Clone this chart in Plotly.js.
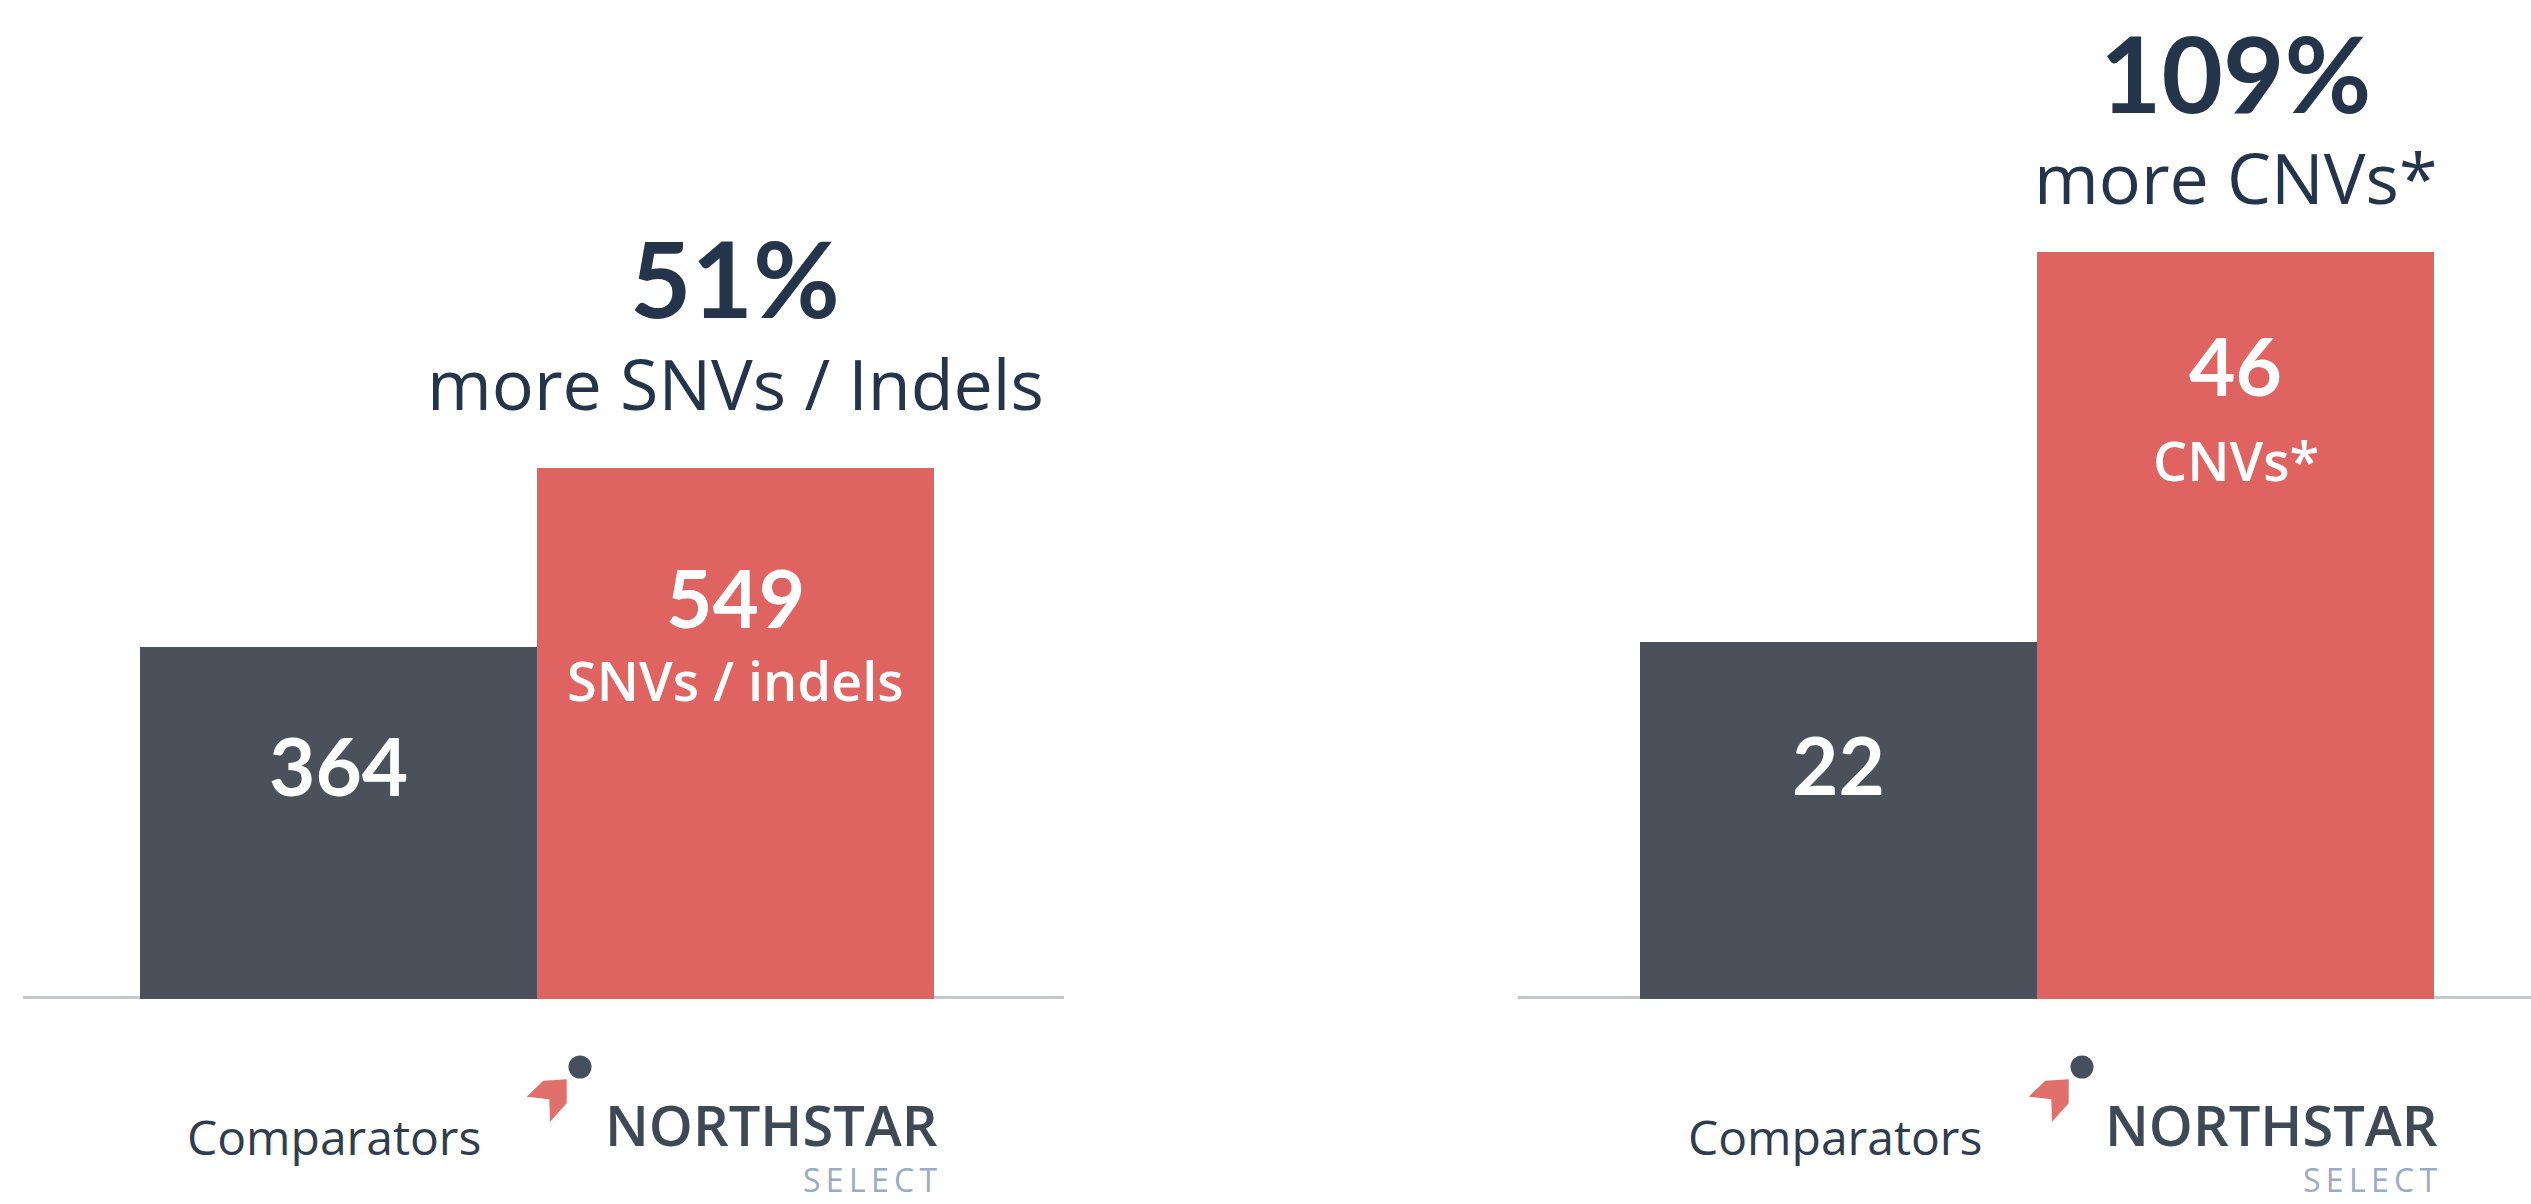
<!DOCTYPE html>
<html>
<head>
<meta charset="utf-8">
<script src="https://cdn.plot.ly/plotly-3.0.1.min.js"></script>
<style>html,body{margin:0;padding:0;background:#fff;}#chart{width:2531px;height:1204px;}</style>
</head>
<body>
<div id="chart"></div>
<script>
// ---- data ----
const categories = ['Comparators', 'NORTHSTAR SELECT'];
const snvValues = [364, 549];
const cnvValues = [22, 46];
const snvHeadline = '51%';
const snvHeadSub = 'more SNVs / Indels';
const snvBarSub = 'SNVs / indels';
const cnvHeadline = '109%';
const cnvHeadSub = 'more CNVs*';
const cnvBarSub = 'CNVs*';
const brandMain = 'NORTHSTAR';
const brandSub = 'SELECT';

// ---- styling ----
const W = 2531, H = 1204;
const DARK = '#4a515b', RED = '#df6361', NAVY = '#24344a', GRAY_LINE = '#c6c7cc';
const NUMFONT = 'Lato, "Open Sans", sans-serif';
const TXTFONT = '"Open Sans", Lato, sans-serif';
const px = x => x / W, py = y => 1 - y / H;
const spaced = s => s.split('').join('\u2009');

const traces = [
  {type: 'bar', x: categories, y: snvValues, xaxis: 'x', yaxis: 'y',
   marker: {color: [DARK, RED], line: {width: 0}}, hoverinfo: 'skip', showlegend: false},
  {type: 'bar', x: categories, y: cnvValues, xaxis: 'x2', yaxis: 'y2',
   marker: {color: [DARK, RED], line: {width: 0}}, hoverinfo: 'skip', showlegend: false}
];

const baseY = 999;
const yDomain = [py(baseY), 1];

function panelAnnotations(xa, ya, vals, headline, headSub, barSub, sh) {
  return [
    {xref: xa, yref: ya, x: categories[1], y: vals[1], text: '<b>' + headline + '</b>', showarrow: false,
     xanchor: 'center', yanchor: 'middle', yshift: sh.head,
     font: {family: NUMFONT, size: 106, color: NAVY, weight: 900}},
    {xref: xa, yref: ya, x: categories[1], y: vals[1], text: headSub, showarrow: false,
     xanchor: 'center', yanchor: 'middle', yshift: sh.sub,
     font: {family: TXTFONT, size: 70, color: NAVY}},
    {xref: xa, yref: ya, x: categories[1], y: vals[1], text: '<b>' + vals[1] + '</b>', showarrow: false,
     xanchor: 'center', yanchor: 'middle', yshift: sh.redNum,
     font: {family: NUMFONT, size: 80, color: '#ffffff', weight: 900}},
    {xref: xa, yref: ya, x: categories[1], y: vals[1], text: barSub, showarrow: false,
     xanchor: 'center', yanchor: 'middle', yshift: sh.redSub,
     font: {family: TXTFONT, size: 54, color: '#ffffff', weight: 600}},
    {xref: xa, yref: ya, x: categories[0], y: vals[0], text: '<b>' + vals[0] + '</b>', showarrow: false,
     xanchor: 'center', yanchor: 'middle', yshift: sh.darkNum,
     font: {family: NUMFONT, size: 80, color: '#ffffff', weight: 900}},
    {xref: xa, yref: 'paper', x: categories[0], y: py(1136), text: categories[0], showarrow: false,
     xanchor: 'center', yanchor: 'middle', xshift: -4,
     font: {family: TXTFONT, size: 48, color: '#2f3d4e'}},
    {xref: xa, yref: 'paper', x: 1.5, y: py(1124), text: brandMain, showarrow: false,
     xanchor: 'right', yanchor: 'middle', xshift: 6,
     font: {family: TXTFONT, size: 56, color: '#3f4855', weight: 600}},
    {xref: xa, yref: 'paper', x: 1.5, y: py(1179), text: spaced(brandSub), showarrow: false,
     xanchor: 'right', yanchor: 'middle', xshift: 6,
     font: {family: TXTFONT, size: 32, color: '#9aabc2'}}
  ];
}

const annotations = [].concat(
  panelAnnotations('x', 'y', snvValues, snvHeadline, snvHeadSub, snvBarSub,
    {head: 191, sub: 85, redNum: -129, redSub: -212, darkNum: -118}),
  panelAnnotations('x2', 'y2', cnvValues, cnvHeadline, cnvHeadSub, cnvBarSub,
    {head: 180, sub: 75, redNum: -113, redSub: -208, darkNum: -122})
);

function logoShapes(dx) {
  const pts = [[526.7,1096.7],[543.3,1080.7],[566.7,1079.3],[566.7,1103.3],[550,1121.7],[549.3,1099.3]];
  const path = 'M ' + pts.map(p => px(p[0] + dx) + ',' + py(p[1])).join(' L ') + ' Z';
  const cx = 580 + dx, cy = 1067, r = 11.5;
  return [
    {type: 'path', xref: 'paper', yref: 'paper', path: path, fillcolor: '#e0706b', line: {width: 0}},
    {type: 'circle', xref: 'paper', yref: 'paper', x0: px(cx - r), x1: px(cx + r), y0: py(cy + r), y1: py(cy - r),
     fillcolor: '#46505c', line: {width: 0}}
  ];
}

const shapes = [
  {type: 'line', xref: 'x domain', yref: 'y', x0: 0, x1: 1, y0: 0, y1: 0, layer: 'below',
   line: {color: GRAY_LINE, width: 6}},
  {type: 'line', xref: 'x2 domain', yref: 'y2', x0: 0, x1: 1, y0: 0, y1: 0, layer: 'below',
   line: {color: GRAY_LINE, width: 6}}
].concat(logoShapes(0), logoShapes(1502));

const hiddenX = {type: 'category', showticklabels: false, showgrid: false, zeroline: false, showline: false, ticks: '', fixedrange: true};
const hiddenY = {showticklabels: false, showgrid: false, zeroline: false, showline: false, ticks: '', fixedrange: true};

const layout = {
  width: W, height: H,
  margin: {l: 0, r: 0, t: 0, b: 0, pad: 0},
  paper_bgcolor: '#ffffff', plot_bgcolor: 'rgba(0,0,0,0)',
  bargap: 0, showlegend: false,
  xaxis: Object.assign({}, hiddenX, {domain: [px(23), px(1064)], range: [-0.794, 1.828], anchor: 'y'}),
  yaxis: Object.assign({}, hiddenY, {domain: yDomain, range: [0, 1033.4], anchor: 'x'}),
  xaxis2: Object.assign({}, hiddenX, {domain: [px(1518), 1], range: [-0.808, 1.744], anchor: 'y2'}),
  yaxis2: Object.assign({}, hiddenY, {domain: yDomain, range: [0, 61.48], anchor: 'x2'}),
  annotations: annotations,
  shapes: shapes
};

Plotly.newPlot('chart', traces, layout, {displayModeBar: false, staticPlot: true});
</script>
</body>
</html>
